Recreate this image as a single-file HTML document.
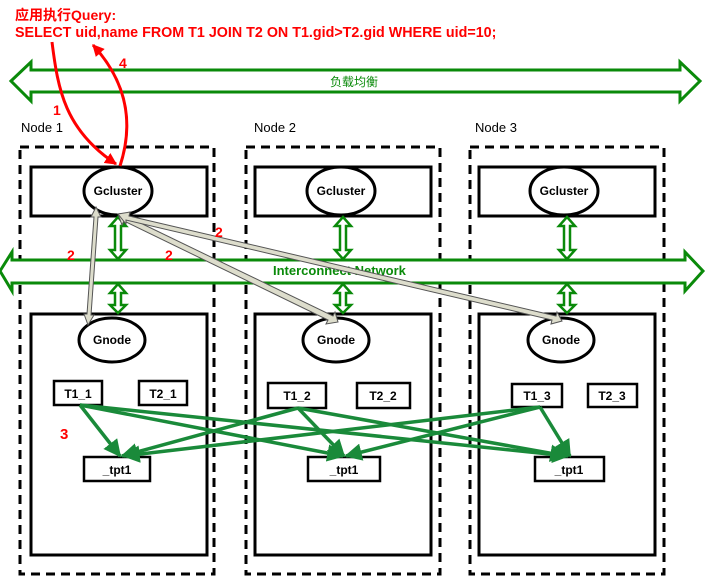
<!DOCTYPE html>
<html><head><meta charset="utf-8"><style>body{margin:0;background:#fff}svg{display:block}</style></head><body>
<svg width="710" height="588" viewBox="0 0 710 588" xmlns="http://www.w3.org/2000/svg" font-family="Liberation Sans, sans-serif">
<defs>
<marker id="ga" viewBox="0 0 10 10" refX="9" refY="5" markerWidth="5" markerHeight="5" orient="auto-start-reverse"><path d="M0,0L10,5L0,10z" fill="#1a8a3a"/></marker>
<marker id="ra" viewBox="0 0 10 10" refX="9" refY="5" markerWidth="4" markerHeight="4" orient="auto-start-reverse"><path d="M0,0L10,5L0,10z" fill="#f00"/></marker>
</defs>
<text x="15" y="20" fill="#f00" font-weight="bold" font-size="14" font-family="Liberation Sans, Noto Sans CJK SC, sans-serif">应用执行Query:</text>
<text x="15" y="37" fill="#f00" font-weight="bold" font-size="14.3">SELECT uid,name FROM T1 JOIN T2 ON T1.gid&gt;T2.gid WHERE uid=10;</text>
<path d="M11,81L31,62V70H680V62L700,81L680,101V92H31V101Z" fill="#fff" stroke="#0a8a0a" stroke-width="3"/>
<text x="330" y="86" fill="#0a8a0a" font-size="12" font-family="Liberation Sans, Noto Sans CJK SC, sans-serif">负载均衡</text>
<text x="21" y="132" font-size="13">Node 1</text>
<text x="254" y="132" font-size="13">Node 2</text>
<text x="475" y="132" font-size="13">Node 3</text>
<g fill="none" stroke="#000" stroke-width="3" stroke-dasharray="9,6">
<rect x="20" y="147" width="194" height="427"/><rect x="246" y="147" width="194" height="427"/><rect x="470" y="147" width="194" height="427"/>
</g>
<g fill="#fff" stroke="#000" stroke-width="3">
<rect x="31" y="167" width="176" height="49"/><rect x="255" y="167" width="176" height="49"/><rect x="479" y="167" width="176" height="49"/>
<rect x="31" y="314" width="176" height="241"/><rect x="255" y="314" width="176" height="241"/><rect x="479" y="314" width="176" height="241"/>
<ellipse cx="118" cy="191" rx="34" ry="24"/><ellipse cx="341" cy="191" rx="34" ry="24"/><ellipse cx="564" cy="191" rx="34" ry="24"/>
<ellipse cx="112" cy="340" rx="33" ry="22"/><ellipse cx="336" cy="340" rx="33" ry="22"/><ellipse cx="561" cy="340" rx="33" ry="22"/>
</g>
<g font-weight="bold" font-size="12" text-anchor="middle">
<text x="118" y="195">Gcluster</text><text x="341" y="195">Gcluster</text><text x="564" y="195">Gcluster</text>
<text x="112" y="344">Gnode</text><text x="336" y="344">Gnode</text><text x="561" y="344">Gnode</text>
</g>
<path d="M0,271L12,252V260H685V252L703,271L685,291V283H12V291Z" fill="#fff" stroke="#0a8a0a" stroke-width="3"/>
<text x="273" y="275" fill="#0a8a0a" font-weight="bold" font-size="13">Interconnect Network</text>
<g fill="#fff" stroke="#0a8a0a" stroke-width="2.5">
<path d="M118,217L126,226H121V250H126L118,259L110,250H115V226H110Z"/>
<path d="M118,284L126,293H121V305H126L118,313L110,305H115V293H110Z"/>
<path d="M343,217L351,226H346V250H351L343,259L335,250H340V226H335Z"/>
<path d="M343,284L351,293H346V305H351L343,313L335,305H340V293H335Z"/>
<path d="M567,217L575,226H570V250H575L567,259L559,250H564V226H559Z"/>
<path d="M567,284L575,293H570V305H575L567,313L559,305H564V293H559Z"/>
</g>
<g stroke="#555" stroke-width="1" fill="#ddddcc">
<path d="M96,207L101,217L98,217L91,315L94,315L88,325L84,314L87,314L94,217L91,217Z"/>
<path d="M118,214L130,213L128,217L333,316L335,312L338,322L326,324L328,320L124,221L122,225Z"/>
<path d="M118,214L130,212L129,216L556,316L557,312L562,321L551,324L552,320L126,220L126,224Z"/>
</g>
<g fill="none" stroke="#f00" stroke-width="3">
<path d="M52,42C58,90 65,130 116,164" marker-end="url(#ra)"/>
<path d="M120,166C135,120 125,80 93,45" marker-end="url(#ra)"/>
</g>
<g fill="#f00" font-weight="bold" font-size="14">
<text x="53" y="115">1</text><text x="119" y="68">4</text>
<text x="67" y="260">2</text><text x="165" y="260">2</text><text x="215" y="237">2</text>
<text x="60" y="439" font-size="15">3</text>
</g>
<g fill="#fff" stroke="#000" stroke-width="2.5">
<rect x="54" y="381" width="48" height="24"/><rect x="139" y="381" width="48" height="24"/>
<rect x="268" y="383" width="58" height="25"/><rect x="357" y="383" width="53" height="25"/>
<rect x="512" y="384" width="50" height="23"/><rect x="588" y="384" width="49" height="23"/>
<rect x="84" y="457" width="66" height="24"/><rect x="308" y="457" width="72" height="24"/><rect x="535" y="457" width="69" height="24"/>
</g>
<g font-weight="bold" font-size="12" text-anchor="middle">
<text x="78" y="398">T1_1</text><text x="163" y="398">T2_1</text>
<text x="297" y="400">T1_2</text><text x="383" y="400">T2_2</text>
<text x="537" y="400">T1_3</text><text x="612" y="400">T2_3</text>
<text x="117" y="474">_tpt1</text><text x="344" y="474">_tpt1</text><text x="569" y="474">_tpt1</text>
</g>
<g stroke="#1a8a3a" stroke-width="3.5" fill="none" marker-end="url(#ga)">
<line x1="80" y1="405" x2="120" y2="456"/><line x1="80" y1="405" x2="343" y2="456"/><line x1="80" y1="405" x2="568" y2="456"/>
<line x1="298" y1="408" x2="122" y2="456"/><line x1="298" y1="408" x2="344" y2="456"/><line x1="298" y1="408" x2="566" y2="456"/>
<line x1="540" y1="407" x2="124" y2="456"/><line x1="540" y1="407" x2="346" y2="456"/><line x1="540" y1="407" x2="570" y2="456"/>
</g>
</svg>
</body></html>
